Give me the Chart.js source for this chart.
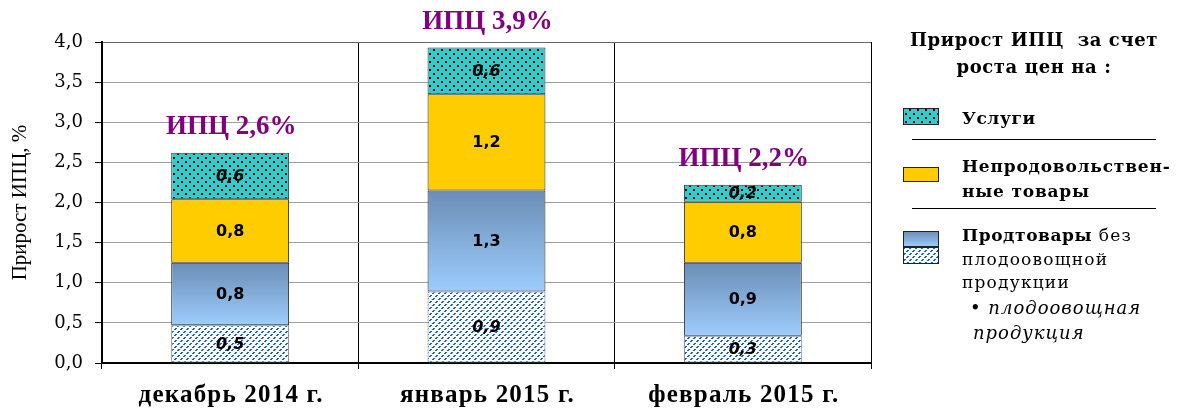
<!DOCTYPE html>
<html><head><meta charset="utf-8">
<script src="https://cdn.jsdelivr.net/npm/chart.js@4.4.0/dist/chart.umd.min.js"></script>
<style>
html,body{margin:0;padding:0;background:#fff;}
#wrap{position:relative;width:1178px;height:408px;overflow:hidden;}
#c{position:absolute;left:0;top:0;}
.lg{position:absolute;font-family:"DejaVu Serif",serif;color:#000;white-space:nowrap;font-size:17px;}
.b{font-weight:bold;}
</style></head><body>
<div id="wrap">
<canvas id="c" width="1178" height="408"></canvas>
<div class="lg b" style="left:885px;top:26px;width:298px;text-align:center;font-size:18px;line-height:27px;letter-spacing:0.6px;">Прирост ИПЦ&nbsp; за счет<br>роста цен на :</div>
<div class="lg b" style="left:962px;top:105px;line-height:26px;letter-spacing:0.6px;">Услуги</div>
<div class="lg b" style="left:962px;top:154px;line-height:25px;letter-spacing:0.8px;">Непродовольствен-<br>ные товары</div>
<div class="lg" style="left:962px;top:224px;line-height:23.5px;letter-spacing:1.2px;"><span class="b" style="letter-spacing:0.6px">Продтовары</span> без<br>плодоовощной<br>продукции</div>
<div class="lg" style="left:970px;top:295px;line-height:25px;font-style:italic;font-size:18px;letter-spacing:1px;">• плодоовощная<br><span style="padding-left:3px">продукция</span></div>
</div>
<script>
const categories = ['декабрь 2014 г.', 'январь 2015 г.', 'февраль 2015 г.'];
const fruitVeg   = [0.47, 0.89, 0.34];   // плодоовощная продукция
const foodExcl   = [0.78, 1.26, 0.91];   // продтовары без плодоовощной продукции
const nonFood    = [0.79, 1.20, 0.76];   // непродовольственные товары
const services   = [0.58, 0.58, 0.21];   // услуги
const cpiTotals  = [2.6, 3.9, 2.2];
const yTicks     = [0, 0.5, 1, 1.5, 2, 2.5, 3, 3.5, 4];

const canvas = document.getElementById('c');
const cx = canvas.getContext('2d');

function dotPattern(){
  const c=document.createElement('canvas'); c.width=8; c.height=8;
  const g=c.getContext('2d');
  g.fillStyle='#33CCCC'; g.fillRect(0,0,8,8);
  g.fillStyle='#000'; g.fillRect(1,1,2,2); g.fillRect(5,5,2,2);
  return cx.createPattern(c,'repeat');
}
function hatchPattern(){
  const c=document.createElement('canvas'); c.width=6; c.height=6;
  const g=c.getContext('2d');
  g.fillStyle='#fff'; g.fillRect(0,0,6,6);
  g.fillStyle='#1560D0';
  for(let i=0;i<6;i++){ if(i%3===2) continue; g.fillRect(i,5-i,1,1); g.fillRect((i+1)%6,5-i,1,1); }
  return cx.createPattern(c,'repeat');
}
const DOTS = dotPattern(), HATCH = hatchPattern();

function foodGradient(ctx){
  const chart=ctx.chart;
  if(!chart.chartArea || !chart.scales.y) return '#85B0DC';
  const i=ctx.dataIndex, y=chart.scales.y;
  const b=fruitVeg[i], t=b+foodExcl[i];
  const y0=y.getPixelForValue(t), y1=y.getPixelForValue(b);
  const g=chart.ctx.createLinearGradient(0,y0,0,y1);
  g.addColorStop(0,'#6B8DB5'); g.addColorStop(1,'#9DCDFD');
  return g;
}

const fmt = v => v.toFixed(1).replace('.', ',');

const labelsPlugin = {
  id:'labels',
  afterDatasetsDraw(chart){
    const ctx=chart.ctx;
    ctx.save();
    chart.data.datasets.forEach((ds,di)=>{
      const meta=chart.getDatasetMeta(di);
      meta.data.forEach((bar,i)=>{
        const p=bar.getProps(['x','y','base'],true);
        ctx.font=(ds.italicLabel?'italic ':'')+'bold 16px "DejaVu Sans"';
        ctx.textAlign='center'; ctx.textBaseline='middle'; ctx.fillStyle='#000';
        ctx.fillText(fmt(ds.data[i]), p.x, (p.y+p.base)/2+1);
      });
    });
    const last=chart.getDatasetMeta(chart.data.datasets.length-1);
    ctx.font='bold 27px "Liberation Serif"';
    ctx.fillStyle='#800080'; ctx.textBaseline='middle';
    last.data.forEach((bar,i)=>{
      ctx.fillText('ИПЦ '+fmt(cpiTotals[i])+'%', bar.x+1, bar.y-26);
    });
    ctx.restore();
  },
  afterDraw(chart){
    const ctx=chart.ctx;
    ctx.save();
    const xs=chart.scales.x;
    ctx.font='bold 25px "Liberation Serif"';
    if('letterSpacing' in ctx) ctx.letterSpacing='1.2px';
    ctx.fillStyle='#000'; ctx.textAlign='center'; ctx.textBaseline='middle';
    categories.forEach((c,i)=>{ ctx.fillText(c, xs.getPixelForTick(i)+1, xs.bottom-12); });
    if('letterSpacing' in ctx) ctx.letterSpacing='0px';
    ctx.strokeStyle='#222'; ctx.lineWidth=1;
    ctx.fillStyle=DOTS; ctx.fillRect(903,108,36,17); ctx.strokeRect(903.5,108.5,35,16);
    ctx.fillStyle='#FFCC00'; ctx.fillRect(903,167,36,15); ctx.strokeRect(903.5,167.5,35,14);
    const g=ctx.createLinearGradient(0,231,0,247); g.addColorStop(0,'#6B8DB5'); g.addColorStop(1,'#9DCDFD');
    ctx.fillStyle=g; ctx.fillRect(903,231,36,16); ctx.strokeRect(903.5,231.5,35,15);
    ctx.fillStyle=HATCH; ctx.fillRect(903,247,36,17); ctx.strokeRect(903.5,247.5,35,16);
    ctx.strokeStyle='#000'; ctx.lineWidth=1.2;
    ctx.beginPath(); ctx.moveTo(912,139.5); ctx.lineTo(1156,139.5); ctx.moveTo(912,208.5); ctx.lineTo(1156,208.5); ctx.stroke();
    ctx.restore();
  }
};

new Chart(cx, {
  type:'bar',
  data:{
    labels:categories,
    datasets:[
      {label:'плодоовощная продукция', data:fruitVeg, backgroundColor:HATCH, borderColor:'#777', italicLabel:true},
      {label:'Продтовары без плодоовощной продукции', data:foodExcl, backgroundColor:foodGradient, borderColor:'#222'},
      {label:'Непродовольственные товары', data:nonFood, backgroundColor:'#FFCC00', borderColor:'#222'},
      {label:'Услуги', data:services, backgroundColor:DOTS, borderColor:'#333', italicLabel:true}
    ].map(d=>Object.assign({borderWidth:1, borderSkipped:false, categoryPercentage:1, barPercentage:0.46}, d))
  },
  options:{
    responsive:false, animation:false, devicePixelRatio:1,
    layout:{padding:{top:42, right:307, left:8, bottom:0}},
    plugins:{legend:{display:false}, tooltip:{enabled:false}},
    scales:{
      x:{
        stacked:true, offset:true,
        grid:{offset:true, color:'#000', lineWidth:1, tickLength:6, tickColor:'#000', drawOnChartArea:true},
        border:{color:'#000', width:2},
        ticks:{display:false},
        afterFit(s){ s.height=45; }
      },
      y:{
        stacked:true, min:0, max:4,
        afterBuildTicks(s){ s.ticks = yTicks.map(v=>({value:v})); },
        grid:{color:(c)=> c.tick && c.tick.value===4 ? '#666' : '#A0A0A0', lineWidth:1, tickLength:7, tickColor:'#000'},
        border:{color:'#000', width:2},
        ticks:{color:'#000', padding:12, font:{family:'DejaVu Serif', size:18}, callback:v=>fmt(v)},
        title:{display:true, text:'Прирост ИПЦ, %', color:'#000', font:{family:'Liberation Serif', size:21}, padding:{top:0,bottom:4}},
        afterFit(s){ s.width=94; }
      }
    }
  },
  plugins:[labelsPlugin]
});
</script>
</body></html>
